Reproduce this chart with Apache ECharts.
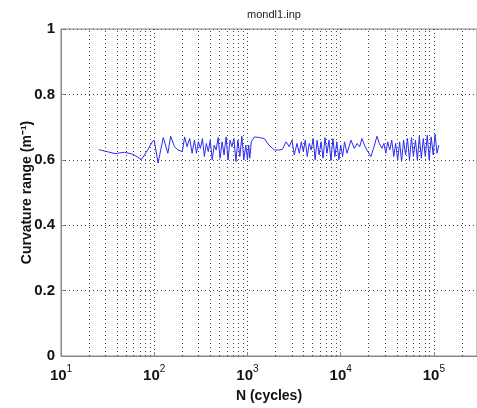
<!DOCTYPE html>
<html>
<head>
<meta charset="utf-8">
<script src="https://cdn.jsdelivr.net/npm/echarts@6/dist/echarts.min.js"></script>
<style>
  html, body { margin: 0; padding: 0; background: #fff; }
  #chart { width: 477px; height: 408px; }
</style>
</head>
<body>
<div id="chart"></div>
<script>
// N (cycles) and curvature range
var cycles = [
    25.5, 38, 48, 59, 73, 85, 95,
    100, 110, 125, 140, 150, 165, 180, 200, 212, 225, 240, 255,
    270, 284, 298, 313, 329, 345, 362, 380, 399, 419,
    440, 462, 485, 509, 535, 561, 590, 619, 650, 682,
    716, 752, 790, 829, 871, 914, 960,
    1000, 1030, 1060, 1100, 1190, 1350, 1515, 1700, 1945, 2200, 2370, 2600, 2810, 3000, 3180, 3400,
    3600, 3780, 3970, 4170, 4380, 4600, 4830, 5070, 5320, 5590, 5870,
    6160, 6470, 6790, 7130, 7490, 7860, 8250, 8670, 9100, 9560,
    10000, 10500, 11000, 11700, 12900, 14000, 15000, 16000, 16900, 18000, 19100, 21100, 22800,
    24500, 26000, 27700,
    29100, 30500, 32000, 33600, 35300, 37100, 38900, 40900, 42900, 45000,
    47300, 49700, 52100, 54700, 57500, 60300, 63400, 66500, 69800, 73300,
    77000, 80900, 84900, 89100, 93600, 98300, 103000, 108000, 113000
];
var curvature = [
    0.631, 0.619, 0.623, 0.617, 0.601, 0.63, 0.655,
    0.66, 0.59, 0.668, 0.62, 0.672, 0.64, 0.63, 0.625, 0.67, 0.64, 0.665, 0.62,
    0.66, 0.62, 0.655, 0.635, 0.665, 0.61, 0.65, 0.625, 0.66, 0.6,
    0.645, 0.63, 0.668, 0.605, 0.655, 0.615, 0.67, 0.6, 0.66, 0.64,
    0.665, 0.595, 0.66, 0.61, 0.672, 0.6, 0.645,
    0.6, 0.645, 0.605, 0.655, 0.67, 0.668, 0.665, 0.645, 0.63, 0.63, 0.632, 0.655, 0.64, 0.66, 0.615, 0.65,
    0.62, 0.655, 0.625, 0.66, 0.61, 0.65, 0.63, 0.665, 0.6, 0.66, 0.615,
    0.655, 0.605, 0.668, 0.62, 0.66, 0.598, 0.665, 0.61, 0.655, 0.6,
    0.645, 0.61, 0.655, 0.62, 0.66, 0.635, 0.65, 0.64, 0.665, 0.645, 0.63, 0.61, 0.64,
    0.672, 0.65, 0.635,
    0.65, 0.62, 0.655, 0.63, 0.66, 0.61, 0.65, 0.6, 0.655, 0.595,
    0.66, 0.615, 0.665, 0.6, 0.668, 0.61, 0.66, 0.6, 0.672, 0.605,
    0.665, 0.61, 0.675, 0.6, 0.67, 0.615, 0.678, 0.62, 0.645
];
var yTicks = [0, 0.2, 0.4, 0.6, 0.8, 1];

// minor log grid lines (2..9 x 10^k)
var minorLines = [];
for (var k = 1; k <= 5; k++) {
    for (var m = 2; m <= 9; m++) {
        var v = m * Math.pow(10, k);
        if (v < 2.9e5) minorLines.push({ xAxis: v });
    }
}

var font = 'Liberation Sans, Arial, sans-serif';
var chart = echarts.init(document.getElementById('chart'));

var option = {
    animation: false,
    backgroundColor: '#fff',
    title: {
        text: 'mondl1.inp',
        left: 269,
        textAlign: 'center',
        top: 4,
        textStyle: { fontFamily: font, fontSize: 11, fontWeight: 'normal', color: '#222' }
    },
    grid: {
        left: 61, right: -2, top: 29, bottom: 51,
        show: true, borderColor: '#888', borderWidth: 1
    },
    xAxis: {
        type: 'log',
        logBase: 10,
        min: 10,
        max: 2.9e5,
        name: 'N (cycles)',
        nameLocation: 'middle',
        nameGap: 33,
        nameTextStyle: { fontFamily: font, fontSize: 14, fontWeight: 'bold', color: '#111' },
        axisLine: { lineStyle: { color: '#888' } },
        axisTick: { inside: true, length: 4, lineStyle: { color: '#888' } },
        splitLine: { show: true, lineStyle: { color: '#444', type: [1, 3], width: 1 } },
        axisLabel: {
            margin: 8,
            showMaxLabel: false,
            formatter: function(v) {
                var e = Math.round(Math.log(v) / Math.LN10);
                return '{b|10}{e|' + e + '}';
            },
            rich: {
                b: { fontFamily: font, fontSize: 15, fontWeight: 'bold', color: '#111' },
                e: { fontFamily: font, fontSize: 10, color: '#111', padding: [0, 0, 14, 0] }
            }
        }
    },
    yAxis: {
        type: 'value',
        min: 0,
        max: 1,
        interval: 0.2,
        name: 'Curvature range (m\u207B\u00B9)',
        nameLocation: 'middle',
        nameGap: 27,
        nameMoveOverlap: false,
        nameTextStyle: { fontFamily: font, fontSize: 14, fontWeight: 'bold', color: '#111' },
        axisLine: { show: true, lineStyle: { color: '#888' } },
        axisTick: { show: true, inside: true, length: 4, lineStyle: { color: '#888' } },
        splitLine: { show: true, lineStyle: { color: '#444', type: [1, 3], width: 1 } },
        axisLabel: {
            margin: 6,
            fontFamily: font, fontSize: 15, fontWeight: 'bold', color: '#111',
            formatter: function(v) { return yTicks.indexOf(v) >= 0 ? String(v) : ''; }
        }
    },
    series: [
        {
            type: 'line',
            data: [],
            silent: true,
            z: 1,
            markLine: {
                silent: true,
                symbol: 'none',
                label: { show: false },
                lineStyle: { color: '#444', type: [1, 3], width: 1 },
                data: minorLines
            }
        },
        {
            type: 'line',
            z: 5,
            data: cycles.map(function(n, i) { return [n, curvature[i]]; }),
            showSymbol: false,
            lineStyle: { color: '#2b2bf5', width: 1 }
        }
    ]
};

chart.setOption(option);
</script>
</body>
</html>
